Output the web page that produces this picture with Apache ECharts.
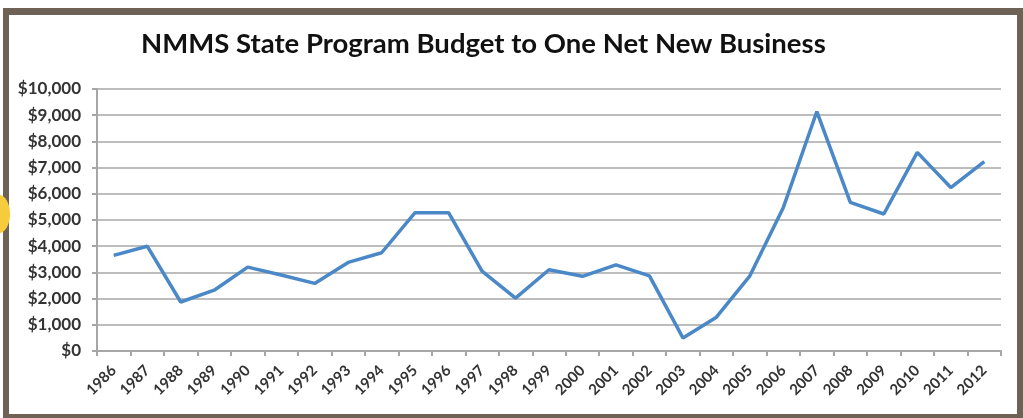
<!DOCTYPE html>
<html><head><meta charset="utf-8">
<script src="https://cdn.jsdelivr.net/npm/echarts@6/dist/echarts.min.js"></script>
<style>
html,body{margin:0;padding:0;background:#fff;}
#frame{position:absolute;left:3px;top:8px;width:1020px;height:410px;box-sizing:border-box;border-left:6px solid #6e6156;border-top:7px solid #6e6156;border-right:6px solid #6e6156;border-bottom:4px solid #6e6156;}
#dot{position:absolute;left:-12px;top:195px;width:22px;height:38px;border-radius:50%;background:#f6cb3c;}
#chart{position:absolute;left:0;top:0;width:1023px;height:418px;}
</style></head>
<body>
<div id="chart"></div>
<div id="frame"></div>
<div id="dot"></div>
<script>
const years = ['1986','1987','1988','1989','1990','1991','1992','1993','1994','1995','1996','1997','1998','1999','2000','2001','2002','2003','2004','2005','2006','2007','2008','2009','2010','2011','2012'];
const budgetPerBusiness = [3650,4000,1870,2320,3200,2900,2580,3380,3750,5280,5280,3050,2020,3100,2850,3290,2870,500,1290,2870,5480,9140,5670,5230,7580,6240,7230];
const chart = echarts.init(document.getElementById('chart'));
chart.setOption({
  animation:false,
  backgroundColor:'#fff',
  title:{text:'NMMS State Program Budget to One Net New Business',left:136,top:25,
    textStyle:{fontFamily:'Lato',fontWeight:'bold',fontSize:27.5,color:'#111'}},
  grid:{left:97,right:22,top:89,bottom:67},
  xAxis:{type:'category',data:years,boundaryGap:true,
    axisLine:{lineStyle:{color:'#a6a6a6',width:2}},
    axisTick:{show:true,length:5,lineStyle:{color:'#a6a6a6',width:2},alignWithLabel:false},
    axisLabel:{rotate:45,interval:0,color:'#333',fontFamily:'Lato',fontSize:15,fontWeight:'bold',margin:17}},
  yAxis:{type:'value',min:0,max:10000,interval:1000,
    axisLine:{show:true,lineStyle:{color:'#a6a6a6',width:2}},
    axisTick:{show:true,length:5,lineStyle:{color:'#a6a6a6',width:2}},
    splitLine:{lineStyle:{color:'#bdbdbd',width:2}},
    axisLabel:{color:'#333',fontFamily:'Lato',fontSize:17,fontWeight:'bold',margin:16,
      formatter:v=>'$'+v.toLocaleString('en-US')}},
  series:[{type:'line',data:budgetPerBusiness,symbol:'none',
    lineStyle:{color:'#4a88c7',width:3.5}}]
});
</script>
</body></html>
